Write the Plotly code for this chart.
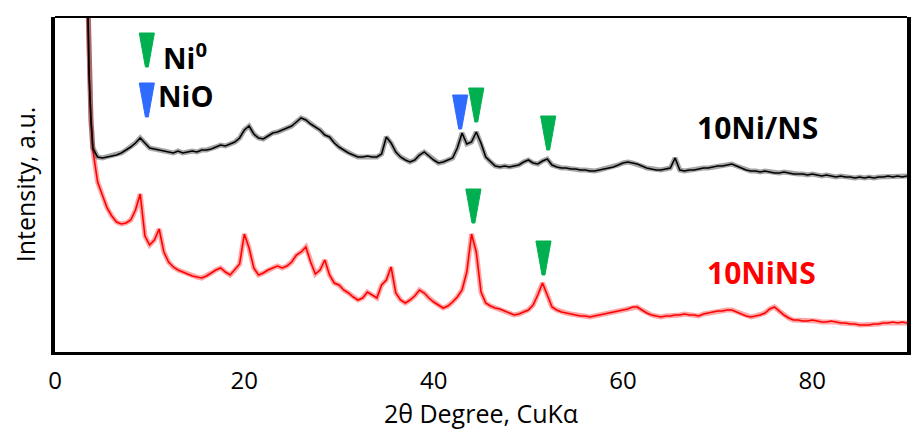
import plotly.graph_objects as go

# 2-theta sampling grid (degrees)
two_theta = [3.4, 3.6, 3.8] + [4.0 + 0.5 * i for i in range(173)]

# 10Ni/NS pattern (arbitrary intensity, offset upward)
ni_ns = [
    380, 277, 232,
    204, 195, 194, 195, 196, 197, 199, 202, 205, 209,
    214, 209, 204, 203, 202, 201, 200, 199, 201, 199,
    200, 201, 200, 202, 202, 203, 205, 207, 206, 208,
    210, 214, 222, 226, 218, 214, 213, 216, 219, 220,
    222, 224, 226, 230, 234, 232, 228, 225, 222, 217,
    215, 209, 205, 202, 199, 197, 195, 195, 196, 195,
    195, 198, 215, 209, 200, 195, 192, 190, 192, 197,
    200, 196, 192, 189, 190, 192, 194, 204, 219, 208,
    210, 220, 209, 195, 190, 186, 185, 186, 185, 186,
    187, 190, 192, 189, 188, 191, 193, 187, 185, 184,
    184, 183, 183, 182, 182, 181, 181, 182, 183, 184,
    185, 187, 189, 190, 189, 188, 186, 184, 183, 182,
    182, 183, 184, 194, 182, 181, 182, 182, 183, 184,
    184, 185, 186, 186, 187, 188, 186, 184, 182, 181,
    181, 180, 181, 180, 179, 179, 180, 179, 178, 178,
    178, 177, 178, 177, 176, 177, 176, 175, 176, 175,
    175, 174, 175, 174, 175, 174, 175, 175, 176, 175,
    176, 175, 176,
]

# 10NiNS pattern
nins = [
    380, 277, 232,
    202, 170, 157, 144, 136, 130, 128, 129, 132, 142,
    158, 116, 107, 112, 123, 100, 90, 85, 82, 80,
    78, 76, 75, 74, 76, 79, 82, 84, 80, 77,
    82, 88, 118, 104, 84, 77, 79, 82, 84, 86,
    84, 86, 90, 97, 100, 105, 90, 78, 82, 92,
    77, 69, 67, 62, 59, 55, 52, 54, 60, 57,
    54, 67, 72, 85, 59, 52, 49, 52, 56, 62,
    59, 54, 50, 47, 44, 46, 50, 55, 62, 80,
    118, 100, 60, 49, 46, 44, 43, 41, 39, 37,
    38, 40, 42, 47, 57, 69, 57, 45, 42, 40,
    39, 38, 37, 36, 36, 35, 36, 37, 38, 39,
    40, 41, 42, 43, 45, 45, 42, 39, 37, 36,
    35, 36, 36, 37, 37, 38, 37, 37, 36, 38,
    39, 40, 41, 41, 42, 42, 40, 38, 36, 35,
    36, 37, 39, 43, 45, 41, 37, 34, 32, 32,
    31, 31, 32, 31, 30, 30, 31, 30, 29, 29,
    28, 28, 27, 27, 27, 28, 28, 29, 29, 30,
    29, 30, 29,
]

# peak markers: (2theta, intensity of marker tip)
ni0_pos = [44.5, 52.1, 44.2, 51.6]
ni0_tip = [230, 202, 129, 77]
nio_pos = [42.8]
nio_tip = [223]

GREEN = "#00B050"
BLUE = "#2F6BFF"
FONT = "Open Sans"

fig = go.Figure()

for y, col in [(nins, "#FF0000"), (ni_ns, "#000000")]:
    # soft underlay gives the noisy look of the raw scan
    fig.add_trace(go.Scatter(x=two_theta, y=y, mode="lines",
                             line=dict(color=col, width=5), opacity=0.35,
                             hoverinfo="skip"))
    fig.add_trace(go.Scatter(x=two_theta, y=y, mode="lines",
                             line=dict(color=col, width=1.6)))


def tri(x, tip, color):
    w_top, w_bot, h = 0.8, 0.15, 34
    path = (f"M{x - w_top},{tip + h} L{x + w_top},{tip + h} "
            f"L{x + w_bot},{tip} L{x - w_bot},{tip} Z")
    fig.add_shape(type="path", path=path, xref="x", yref="y",
                  fillcolor=color, line=dict(color=color, width=1))


for x, t in zip(ni0_pos, ni0_tip):
    tri(x, t, GREEN)
for x, t in zip(nio_pos, nio_tip):
    tri(x, t, BLUE)

# legend keys
tri(9.7, 285, GREEN)
tri(9.7, 235, BLUE)
fig.add_annotation(x=11.2, y=296, xref="x", yref="y", xanchor="left",
                   text="<b>Ni<sup>0</sup></b>", showarrow=False,
                   font=dict(family=FONT, size=29, color="black"))
fig.add_annotation(x=10.7, y=257, xref="x", yref="y", xanchor="left",
                   text="<b>NiO</b>", showarrow=False,
                   font=dict(family=FONT, size=29, color="black"))

fig.add_annotation(x=74.2, y=225, xref="x", yref="y", text="<b>10Ni/NS</b>",
                   showarrow=False, font=dict(family=FONT, size=30, color="black"))
fig.add_annotation(x=74.6, y=80, xref="x", yref="y", text="<b>10NiNS</b>",
                   showarrow=False, font=dict(family=FONT, size=30, color="#FF0000"))

# thin top border
fig.add_shape(type="line", xref="paper", yref="paper", x0=0, x1=1, y0=1, y1=1,
              line=dict(color="black", width=2))

# page body adds ~8px offset, so the figure is a bit smaller than the window
fig.update_layout(
    width=913, height=424,
    margin=dict(l=47, r=14, t=9, b=80),
    plot_bgcolor="white", paper_bgcolor="white",
    showlegend=False,
    font=dict(family=FONT, color="black"),
    xaxis=dict(range=[0, 90], tickvals=[0, 20, 40, 60, 80], showgrid=False,
               zeroline=False, showline=True, linecolor="black", linewidth=3,
               ticks="", ticklabelstandoff=5, tickfont=dict(size=24),
               automargin=False,
               title=dict(text="2θ Degree, CuKα", font=dict(size=25), standoff=0)),
    yaxis=dict(range=[0, 335], showticklabels=False, showgrid=False,
               zeroline=False, showline=True, mirror=True, linecolor="black",
               linewidth=4, ticks="", automargin=False,
               title=dict(text="Intensity, a.u.", font=dict(size=25), standoff=12)),
)

fig.write_html("out.html")
